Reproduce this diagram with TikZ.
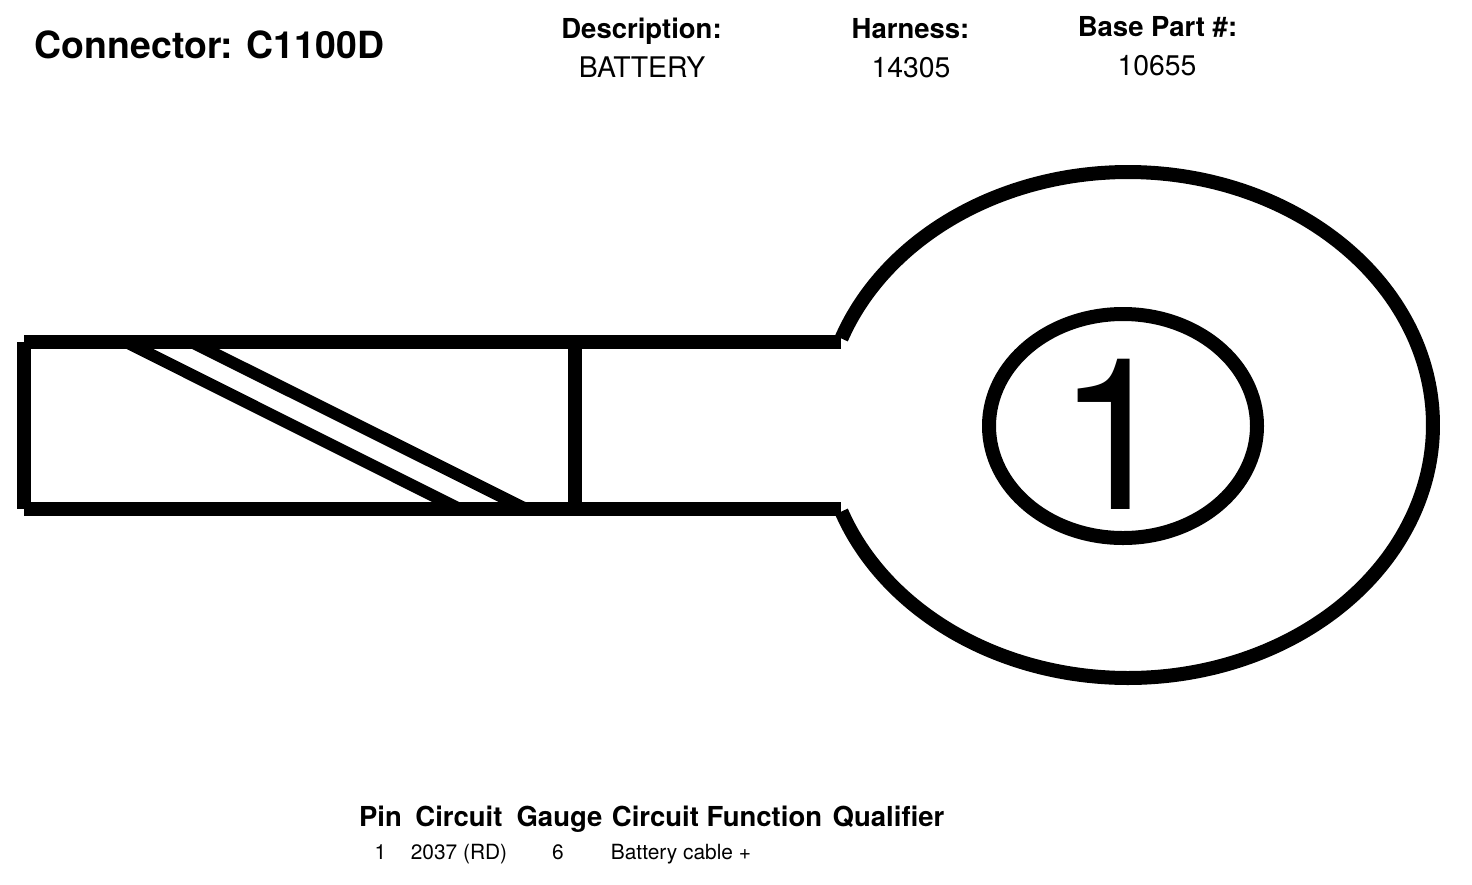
\documentclass[tikz,border=0pt]{standalone}
\usepackage{fontspec}
\setmainfont{TeX Gyre Heros}
\tikzset{
  ln/.style={line width=7pt,line cap=butt,line join=miter},
  diag/.style={line width=6pt},
  oval/.style={line width=7pt},
  head/.style={font=\fontsize{13.75}{15}\selectfont\bfseries,inner sep=0pt,anchor=base},
  val/.style={font=\fontsize{14.2}{15}\selectfont,inner sep=0pt,anchor=base},
  small/.style={font=\fontsize{10.45}{12}\selectfont,inner sep=0pt,anchor=base}
}
\begin{document}
\begin{tikzpicture}[x=0.5pt,y=-0.5pt]
\useasboundingbox (0,0) rectangle (1472,884);
\fill[white] (0,0) rectangle (1472,884);
\node[font=\fontsize{18.7}{20}\selectfont\bfseries,inner sep=0pt,anchor=base] (title) at (209.5,58) {Connector: C1100D};
\node[head] (d) at (641.5,38) {Description:};
\node[val] (dv) at (642,77) {BATTERY};
\node[head] (h) at (910.5,38) {Harness:};
\node[val] (hv) at (911,77) {14305};
\node[head] (b) at (1157.5,36) {Base Part \#:};
\node[val] (bv) at (1157,75) {10655};
% terminal body
\draw[ln] (24,342) -- (841,342);
\draw[ln] (24,508.7) -- (841,508.7);
\draw[ln] (23.5,342) -- (23.5,508.7);
\draw[ln] (574.5,342) -- (574.5,508.7);
\draw[diag] (126,342) -- (459,508.7);
\draw[diag] (191.5,342) -- (525.5,508.7);
% ring
\draw[oval] plot[smooth,samples=120,domain=-160:160] ({1128+305*cos(\x)},{425+253*sin(\x)});
\draw[oval] (1123,426) ellipse[x radius=134,y radius=112];
\node[font=\fontsize{106}{110}\selectfont,inner sep=0pt,anchor=base] (pin) at (1115,509) {1};
% table
\node[head] (t1) at (380.5,826) {Pin};
\node[head] (t2) at (459,826) {Circuit};
\node[head] (t3) at (559.5,826) {Gauge};
\node[head] (t4) at (717,826) {Circuit Function};
\node[head] (t5) at (888.5,826) {Qualifier};
\node[small] (r1) at (380.5,859) {1};
\node[small] (r2) at (459,859) {2037 (RD)};
\node[small] (r3) at (558,859) {6};
\node[small,anchor=base west] (r4) at (610.5,859) {Battery cable +};
\end{tikzpicture}
\end{document}
